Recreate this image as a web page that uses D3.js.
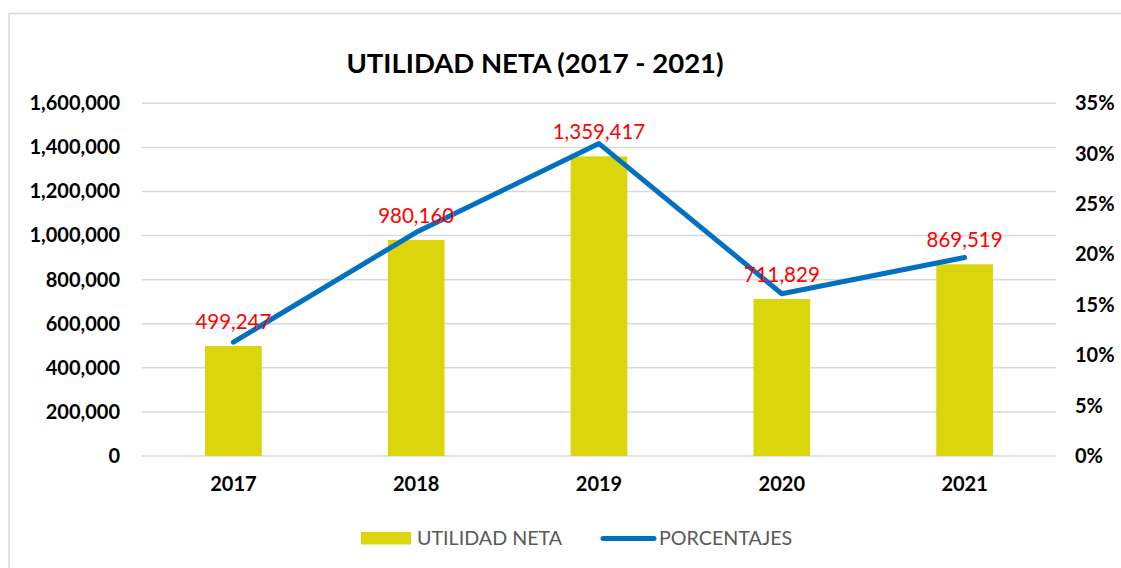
<!DOCTYPE html>
<html>
<head>
<meta charset="utf-8">
<script src="https://cdn.jsdelivr.net/npm/d3@7"></script>
<style>
  body { margin: 0; background: #fff; }
  svg { font-family: Lato, "Open Sans", sans-serif; }
</style>
</head>
<body>
<svg width="1121" height="568"></svg>
<script>
const years = ["2017", "2018", "2019", "2020", "2021"];
const utilidad = [499247, 980160, 1359417, 711829, 869519];
const porcentajes = [0.113, 0.222, 0.310, 0.161, 0.197];
const leftTicks = [0, 200000, 400000, 600000, 800000, 1000000, 1200000, 1400000, 1600000];
const rightTicks = [0, 0.05, 0.10, 0.15, 0.20, 0.25, 0.30, 0.35];

const svg = d3.select("svg");
var margin = { top: 103.3, right: 65, bottom: 112, left: 142 };
var width = 1121, height = 568;

// chart border
svg.append("rect")
    .attr("x", 9).attr("y", 13.5)
    .attr("width", 1130).attr("height", 600)
    .attr("fill", "none")
    .attr("stroke", "#d9d9d9")
    .attr("stroke-width", 1.5);

const xScale = d3.scaleBand()
    .domain(years)
    .range([142, 1056])
    .paddingInner(0.69)
    .paddingOuter(0.345);

const yScale = d3.scaleLinear()
    .domain([0, 1600000])
    .range([456, 103.3]);

const y2Scale = d3.scaleLinear()
    .domain([0, 0.35])
    .range([456, 103.3]);

//grid
svg.append("g").selectAll("line")
    .data(leftTicks)
    .enter().append("line")
    .attr("x1", 142).attr("x2", 1056)
    .attr("y1", d => yScale(d)).attr("y2", d => yScale(d))
    .attr("stroke", "#d9d9d9")
    .attr("stroke-width", 1.5);

// left axis
const yAxis = d3.axisLeft(yScale).tickValues(leftTicks).tickSize(0).tickPadding(0)
    .tickFormat(d3.format(","));
svg.append("g").attr("transform", "translate(120,0)").call(yAxis)
    .call(g => g.select(".domain").remove())
    .selectAll("text")
    .attr("font-family", "Lato, sans-serif")
    .attr("font-size", 20).attr("font-weight", "bold").attr("fill", "#000");

// right axis
const y2Axis = d3.axisRight(y2Scale).tickValues(rightTicks).tickSize(0).tickPadding(0)
    .tickFormat(d3.format(".0%"));
svg.append("g").attr("transform", "translate(1075,0)").call(y2Axis)
    .call(g => g.select(".domain").remove())
    .selectAll("text")
    .attr("font-family", "Lato, sans-serif")
    .attr("font-size", 20).attr("font-weight", "bold").attr("fill", "#000");

// x axis
const xAxis = d3.axisBottom(xScale).tickSize(0).tickPadding(0);
svg.append("g").attr("transform", "translate(0,477)").call(xAxis)
    .call(g => g.select(".domain").remove())
    .selectAll("text")
    .attr("font-family", "Lato, sans-serif")
    .attr("font-size", 20).attr("font-weight", "bold").attr("fill", "#000");

// bars
svg.append("g").selectAll("rect")
    .data(utilidad)
    .enter().append("rect")
    .attr("x", (d, i) => xScale(years[i]))
    .attr("y", d => yScale(d))
    .attr("width", xScale.bandwidth())
    .attr("height", d => yScale(0) - yScale(d))
    .attr("fill", "#dbd50b");

// line
const line = d3.line()
    .x((d, i) => xScale(years[i]) + xScale.bandwidth() / 2)
    .y(d => y2Scale(d));
svg.append("path")
    .datum(porcentajes)
    .attr("d", line)
    .attr("fill", "none")
    .attr("stroke", "#0070c0")
    .attr("stroke-width", 5)
    .attr("stroke-linecap", "round")
    .attr("stroke-linejoin", "round");

// data labels
svg.append("g").selectAll("text")
    .data(utilidad)
    .enter().append("text")
    .attr("x", (d, i) => xScale(years[i]) + xScale.bandwidth() / 2)
    .attr("y", d => yScale(d) - 24.5)
    .attr("dy", "0.35em")
    .attr("text-anchor", "middle")
    .attr("font-size", 20.5)
    .attr("fill", "#ff0000")
    .text(d => d3.format(",")(d));

// title
svg.append("text")
    .attr("x", 535).attr("y", 63)
    .attr("dy", "0.35em")
    .attr("text-anchor", "middle")
    .attr("font-size", 27.5).attr("font-weight", "bold")
    .attr("fill", "#000")
    .text("UTILIDAD NETA (2017 - 2021)");

// legend
const legend = svg.append("g");
legend.append("rect")
    .attr("x", 361).attr("y", 532)
    .attr("width", 50).attr("height", 12.5)
    .attr("fill", "#dbd50b");
legend.append("text")
    .attr("x", 417).attr("y", 538.5).attr("dy", "0.35em")
    .attr("font-size", 19.7).attr("fill", "#595959")
    .text("UTILIDAD NETA");
legend.append("line")
    .attr("x1", 603).attr("x2", 654)
    .attr("y1", 538.5).attr("y2", 538.5)
    .attr("stroke", "#0070c0").attr("stroke-width", 5)
    .attr("stroke-linecap", "round");
legend.append("text")
    .attr("x", 659).attr("y", 538.5).attr("dy", "0.35em")
    .attr("font-size", 19.7).attr("fill", "#595959")
    .text("PORCENTAJES");
</script>
</body>
</html>
